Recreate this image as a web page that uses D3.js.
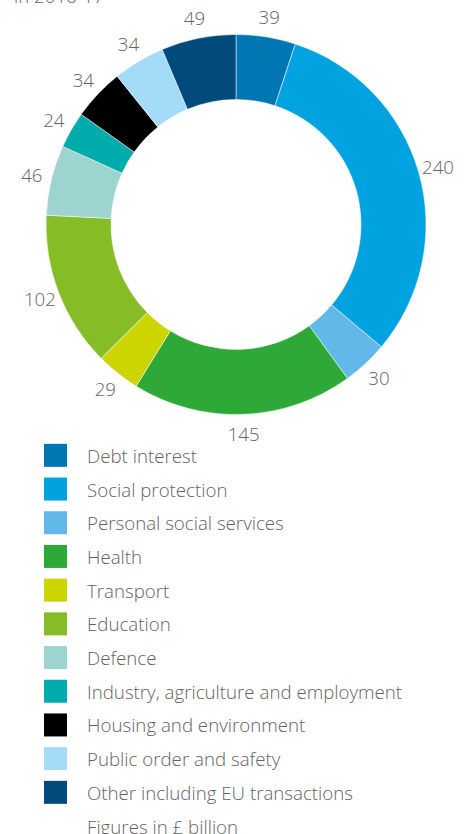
<!DOCTYPE html>
<html>
<head>
<meta charset="utf-8">
<script src="https://cdn.jsdelivr.net/npm/d3@7"></script>
<style>
  body { margin: 0; background: #fff; }
  svg { display: block; font-family: "Open Sans", sans-serif; font-weight: 300; }
</style>
</head>
<body>
<svg id="chart"></svg>
<script>
// UK public spending by function, 2016-17 (£ billion)
const categories = [
    "Debt interest",
    "Social protection",
    "Personal social services",
    "Health",
    "Transport",
    "Education",
    "Defence",
    "Industry, agriculture and employment",
    "Housing and environment",
    "Public order and safety",
    "Other including EU transactions"
];
const values = [39, 240, 30, 145, 29, 102, 46, 24, 34, 34, 49];
const colors = ["#0076b3", "#00a3e0", "#62b8e8", "#2ea836", "#cdd500", "#86bc25",
                "#9dd4cf", "#00abab", "#000000", "#a4dbf8", "#004b7c"];
const subtitle = "in 2016-17";
const footnote = "Figures in £ billion";

const width = 469, height = 834;
const cx = 236, cy = 224.5, outerR = 190, innerR = 125, labelR = 210;
const textColor = "#636363";
const fontSize = "18.7px";

const svg = d3.select("#chart")
    .attr("width", width)
    .attr("height", height);

// title is cut off at the top of the picture
svg.append("text")
    .attr("x", 14)
    .attr("y", 3)
    .attr("fill", textColor)
    .style("font-size", fontSize)
    .text(subtitle);

const data = categories.map((c, i) => ({ name: c, value: values[i], color: colors[i] }));

const pie = d3.pie()
    .value(d => d.value)
    .sort(null);

const arc = d3.arc()
    .innerRadius(innerR)
    .outerRadius(outerR);

const labelArc = d3.arc()
    .innerRadius(labelR)
    .outerRadius(labelR);

const g = svg.append("g")
    .attr("transform", `translate(${cx},${cy})`);

const arcs = pie(data);

g.selectAll(".slice")
    .data(arcs)
    .enter()
    .append("path")
    .attr("class", "slice")
    .attr("d", arc)
    .attr("fill", d => d.data.color)
    .attr("stroke", "#fff")
    .attr("stroke-width", 0.5);

// value labels around the ring
g.selectAll(".value")
    .data(arcs)
    .enter()
    .append("text")
    .attr("class", "value")
    .attr("transform", d => `translate(${labelArc.centroid(d)})`)
    .attr("text-anchor", "middle")
    .attr("dy", "0.36em")
    .attr("fill", textColor)
    .style("font-size", fontSize)
    .text(d => d.data.value);

// legend
const legendY = d3.scaleBand()
    .domain(d3.range(categories.length + 1))
    .range([438.5, 438.5 + 33.7 * (categories.length + 1)]);

const legend = svg.append("g");

const rows = legend.selectAll(".row")
    .data(data)
    .enter()
    .append("g")
    .attr("class", "row")
    .attr("transform", (_, i) => `translate(0,${legendY(i) + legendY.bandwidth() / 2})`);

rows.append("rect")
    .attr("x", 44)
    .attr("y", -11.5)
    .attr("width", 23)
    .attr("height", 23)
    .attr("fill", d => d.color);

rows.append("text")
    .attr("x", 87)
    .attr("y", 7.5)
    .attr("fill", textColor)
    .style("font-size", fontSize)
    .text(d => d.name);

legend.append("text")
    .attr("x", 87)
    .attr("y", legendY(categories.length) + legendY.bandwidth() / 2 + 7.5)
    .attr("fill", textColor)
    .style("font-size", fontSize)
    .text(footnote);
</script>
</body>
</html>
